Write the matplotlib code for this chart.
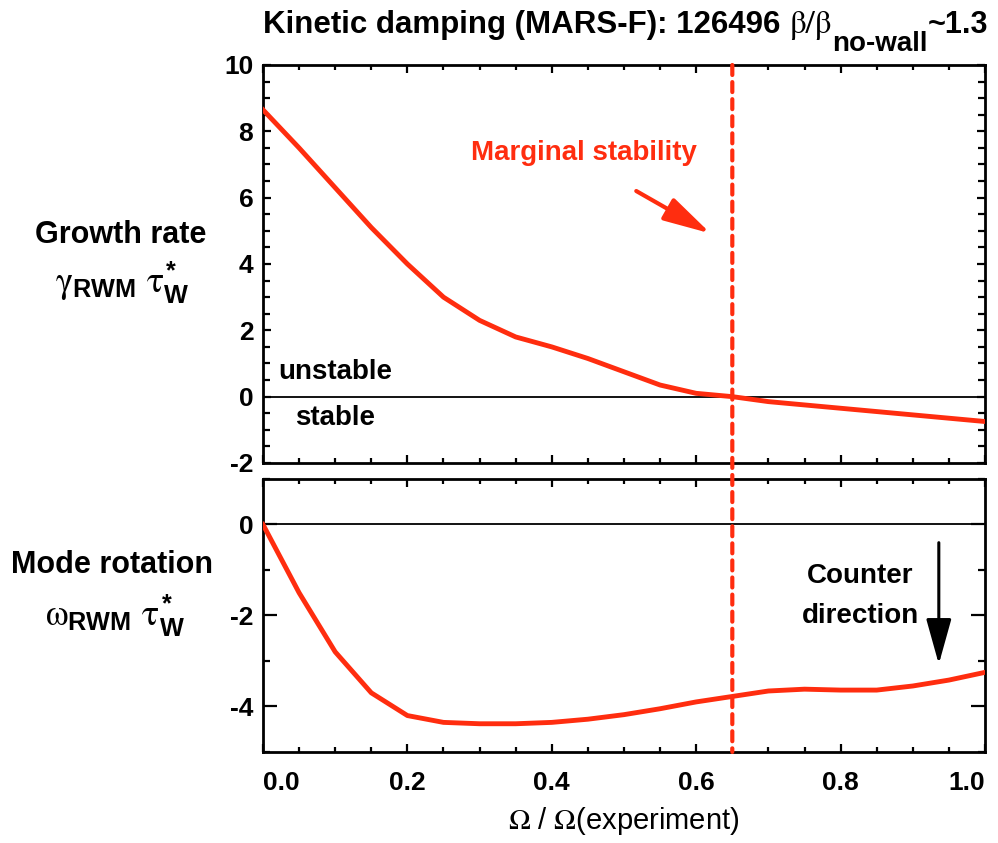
import numpy as np
import matplotlib
matplotlib.use("Agg")
import matplotlib.pyplot as plt
from matplotlib.patches import ConnectionPatch
from matplotlib.ticker import MultipleLocator

# rotation scan, fraction of experimental rotation
omega_frac = [0.0, 0.05, 0.1, 0.15, 0.2, 0.25, 0.3, 0.35, 0.4, 0.45, 0.5,
              0.55, 0.6, 0.65, 0.7, 0.75, 0.8, 0.85, 0.9, 0.95, 1.0]
growth_rate = [8.65, 7.5, 6.3, 5.1, 4.0, 3.0, 2.3, 1.8, 1.5, 1.15, 0.75,
               0.35, 0.1, 0.0, -0.15, -0.25, -0.35, -0.45, -0.55, -0.65, -0.75]
mode_rotation = [0.0, -1.5, -2.8, -3.7, -4.2, -4.35, -4.38, -4.38, -4.35, -4.28, -4.18,
                 -4.05, -3.9, -3.78, -3.66, -3.62, -3.64, -3.64, -3.55, -3.42, -3.25]
x_ticks = [0.0, 0.2, 0.4, 0.6, 0.8, 1.0]
x_ticklabels = ['0.0', '0.2', '0.4', '0.6', '0.8', '1.0']
marginal = 0.65

plt.rcParams['font.family'] = ['Liberation Sans', 'DejaVu Sans']
plt.rcParams['font.weight'] = 'bold'
plt.rcParams['mathtext.fontset'] = 'custom'
plt.rcParams['mathtext.rm'] = 'Liberation Sans:weight=bold'
plt.rcParams['mathtext.bf'] = 'Liberation Sans:weight=bold'
plt.rcParams['mathtext.it'] = 'STIXGeneral:weight=normal'
plt.rcParams['mathtext.sf'] = 'STIXGeneral:weight=normal'
plt.rcParams['axes.unicode_minus'] = False

red = '#ff2d0f'

fig = plt.figure(figsize=(9.98, 8.43), dpi=100)
ax1 = fig.add_axes([0.2635, 0.4508, 0.7235, 0.4721])
ax2 = fig.add_axes([0.2635, 0.1080, 0.7235, 0.3238])

for ax in (ax1, ax2):
    ax.set_xlim(0, 1)
    ax.set_xticks(x_ticks)
    ax.xaxis.set_minor_locator(MultipleLocator(0.05))
    ax.tick_params(which='both', direction='in', top=True, right=True, width=1.6,
                   labelsize=19)
    ax.tick_params(axis='x', which='major', length=6, pad=14)
    ax.tick_params(axis='x', which='minor', length=3.5)
    ax.tick_params(axis='y', which='minor', length=5, pad=7)
    for s in ax.spines.values():
        s.set_linewidth(2)
    ax.axhline(0, color='black', lw=1.3, zorder=1)

# growth rate
ax1.plot(omega_frac, growth_rate, color=red, lw=3.5, zorder=3)
ax1.set_ylim(-2, 10)
ax1.yaxis.set_major_locator(MultipleLocator(2))
ax1.yaxis.set_minor_locator(MultipleLocator(0.5))
ax1.tick_params(axis='y', which='major', length=6, pad=7)
ax1.tick_params(labelbottom=False)
ax1.text(0.1, 0.74, 'unstable', fontsize=20, ha='center', va='center')
ax1.text(0.1, -0.64, 'stable', fontsize=20, ha='center', va='center')
ax1.text(0.445, 7.34, 'Marginal stability', fontsize=20, color=red, ha='center', va='center')
ax1.annotate('', xy=(0.62, 4.92), xytext=(0.517, 6.2),
             arrowprops=dict(arrowstyle='-|>,head_length=2.9,head_width=0.75',
                             mutation_scale=10, color=red, lw=3, shrinkA=0, shrinkB=0))

# mode rotation
ax2.plot(omega_frac, mode_rotation, color=red, lw=3.5, zorder=3)
ax2.set_ylim(-5, 1)
ax2.yaxis.set_major_locator(MultipleLocator(2))
ax2.yaxis.set_minor_locator(MultipleLocator(1))
ax2.tick_params(axis='y', which='major', length=10, pad=7)
ax2.text(0.827, -1.14, 'Counter', fontsize=20, ha='center', va='center')
ax2.text(0.827, -2.02, 'direction', fontsize=20, ha='center', va='center')
ax2.annotate('', xy=(0.936, -3.07), xytext=(0.936, -0.4),
             arrowprops=dict(arrowstyle='-|>,head_length=2.8,head_width=0.78',
                             mutation_scale=10, color='black', lw=2.2, shrinkA=0, shrinkB=0))
ax2.set_xticklabels(x_ticklabels)
labels = ax2.get_xticklabels()
labels[0].set_ha('left')
labels[-1].set_ha('right')
ax2.set_xlabel('$\\mathsf{\u03a9}$ / $\\mathsf{\u03a9}$(experiment)', fontsize=21, labelpad=7)

# dashed marginal stability line spanning both panels
con = ConnectionPatch(xyA=(marginal, 10), coordsA=ax1.transData,
                      xyB=(marginal, -5), coordsB=ax2.transData,
                      color=red, lw=3, linestyle=(0, (2.4, 1.7)), zorder=5)
fig.add_artist(con)

# panel labels
fig.text(0.1212, 0.7212, 'Growth rate', fontsize=22, ha='center', va='center')
fig.text(0.1222, 0.665, r'$\gamma_{\mathbf{RWM}}\ \tau^{*}_{\mathbf{W}}$', fontsize=26,
         ha='center', va='center')
fig.text(0.1122, 0.3298, 'Mode rotation', fontsize=22, ha='center', va='center')
fig.text(0.1152, 0.2705, r'$\omega_{\mathbf{RWM}}\ \tau^{*}_{\mathbf{W}}$', fontsize=26,
         ha='center', va='center')

# title built from pieces so the subscript keeps its large size
ty = 0.9609
t1 = fig.text(0.2635, ty, 'Kinetic damping (MARS-F): 126496 ', fontsize=22.5,
              ha='left', va='baseline')
t2 = ax1.annotate('\u03b2/\u03b2', xy=(1, ty), xycoords=(t1, 'figure fraction'),
                  fontsize=24, family='STIXGeneral', weight='normal',
                  ha='left', va='baseline', annotation_clip=False)
t3 = ax1.annotate('no\u2010wall', xy=(1, ty), xycoords=(t2, 'figure fraction'),
                  xytext=(1, -13), textcoords='offset points',
                  fontsize=20, ha='left', va='baseline', annotation_clip=False)
t4 = ax1.annotate('~1.3', xy=(1, ty), xycoords=(t3, 'figure fraction'),
                  fontsize=22, ha='left', va='baseline', annotation_clip=False)

fig.savefig('out.png', dpi=100)
